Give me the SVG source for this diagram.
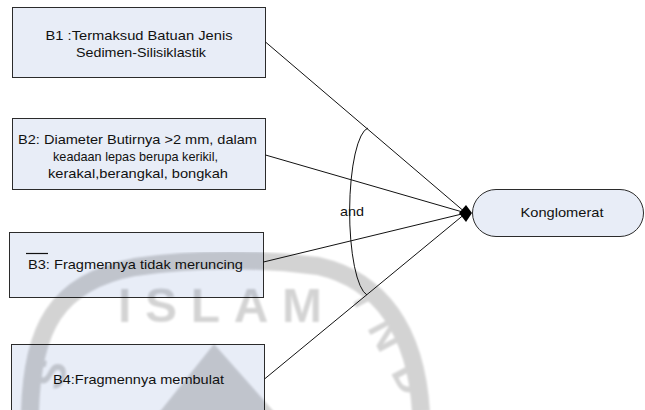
<svg xmlns="http://www.w3.org/2000/svg" width="645" height="410" viewBox="0 0 645 410">
  <defs>
    <style>
      .box { fill: #e8edf7; stroke: #2b2b2b; stroke-width: 1; }
      .lbl { font-family: "Liberation Sans", Arial, sans-serif; font-size: 13.5px; fill: #111; }
      .mid { text-anchor: middle; }
      .edge { fill: none; stroke: #111; stroke-width: 1; }
      .wm { fill: #000; font-family: "Liberation Sans", Arial, sans-serif; font-weight: bold; }
      .wm-band { fill: none; stroke: #000; stroke-width: 18; }
    </style>
    <filter id="soft" x="-5%" y="-5%" width="110%" height="110%">
      <feGaussianBlur stdDeviation="0.8"/>
    </filter>
  </defs>

  <rect x="0" y="0" width="645" height="410" fill="#ffffff"/>

  <!-- premise nodes -->
  <g id="b1">
    <rect class="box" x="12.5" y="7.5" width="253" height="70"/>
  </g>
  <g id="b2">
    <rect class="box" x="12.5" y="118.5" width="253" height="71"/>
  </g>
  <g id="b3">
    <rect class="box" x="9.5" y="232.5" width="254" height="65"/>
  </g>
  <g id="b4">
    <rect class="box" x="11.5" y="344.5" width="253" height="80"/>
  </g>

  <!-- conclusion node -->
  <g id="konglomerat">
    <rect class="box" x="472.5" y="189.5" width="171" height="47" rx="23.5" ry="23.5"/>
  </g>

  <!-- background seal -->
  <g id="seal" opacity="0.17" filter="url(#soft)" pointer-events="none">
    <path class="wm-band" d="M30,412 C32,330 55,282 135,267 Q225,254 318,266 C380,280 416,330 421,412"/>
    <polygon class="wm" points="214,344 276,414 158,414"/>
    <text class="wm" x="118" y="322" font-size="48" textLength="204" lengthAdjust="spacing">ISLAM</text>
    <text class="wm" transform="translate(352,300) rotate(62)" font-size="42" textLength="112" lengthAdjust="spacing">IND</text>
    <text class="wm" transform="translate(60,392) rotate(-72)" font-size="42">S</text>
  </g>

  <!-- connectors into the AND junction -->
  <g id="connectors">
    <line class="edge" x1="265.5" y1="42" x2="466" y2="213"/>
    <line class="edge" x1="265.5" y1="155" x2="466" y2="213"/>
    <line class="edge" x1="263.5" y1="262" x2="466" y2="213"/>
    <line class="edge" x1="264.5" y1="379" x2="466" y2="213"/>
    <path class="edge" d="M368,128 A20,84 0 0 0 367,295"/>
    <polygon points="459,213 466,205 472,213 466,222" fill="#000"/>
  </g>

  <!-- labels -->
  <g id="labels">
    <text class="lbl mid" x="139" y="40" textLength="187" lengthAdjust="spacingAndGlyphs">B1 :Termaksud Batuan Jenis</text>
    <text class="lbl mid" x="141" y="56.5" textLength="130" lengthAdjust="spacingAndGlyphs">Sedimen-Silisiklastik</text>

    <text class="lbl mid" x="137.5" y="144" textLength="239" lengthAdjust="spacingAndGlyphs">B2: Diameter Butirnya &gt;2 mm, dalam</text>
    <text class="lbl mid" x="135.5" y="161" textLength="165" lengthAdjust="spacingAndGlyphs">keadaan lepas berupa kerikil,</text>
    <text class="lbl mid" x="138" y="178" textLength="180" lengthAdjust="spacingAndGlyphs">kerakal,berangkal, bongkah</text>

    <line x1="26" y1="253.5" x2="48" y2="253.5" stroke="#111" stroke-width="1.2"/>
    <text class="lbl mid" x="135.5" y="268.5" textLength="215" lengthAdjust="spacingAndGlyphs">B3: Fragmennya tidak meruncing</text>

    <text class="lbl mid" x="138.5" y="383.5" textLength="171" lengthAdjust="spacingAndGlyphs">B4:Fragmennya membulat</text>

    <text class="lbl mid" x="352" y="216" textLength="24" lengthAdjust="spacingAndGlyphs">and</text>

    <text class="lbl mid" x="562" y="217" textLength="83" lengthAdjust="spacingAndGlyphs">Konglomerat</text>
  </g>
</svg>
